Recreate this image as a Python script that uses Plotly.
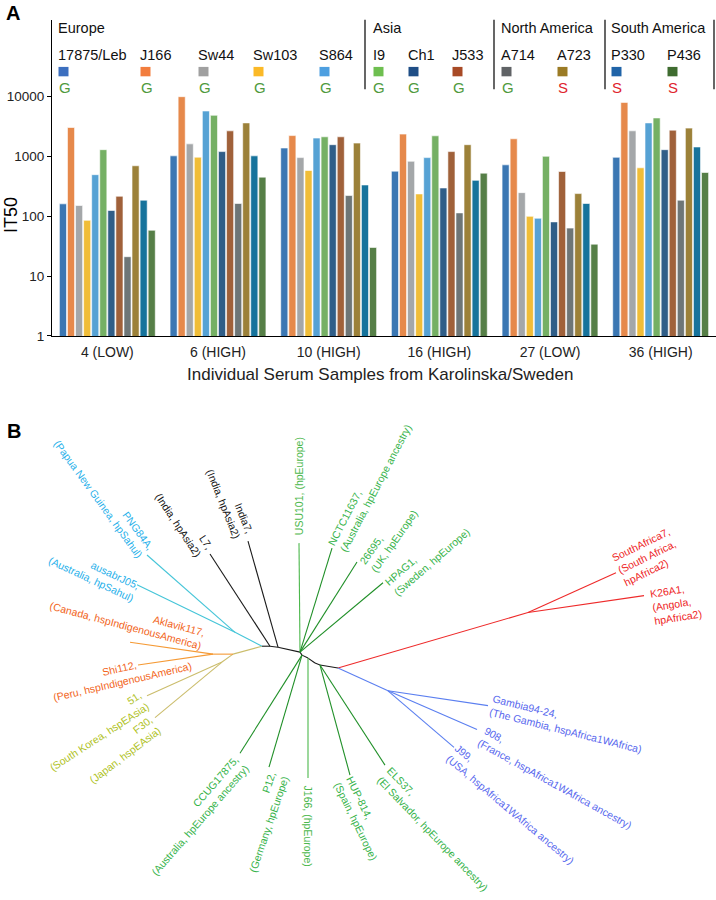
import plotly.graph_objects as go

W, H = 716, 900
FONT = "Liberation Sans, Arial, Helvetica, sans-serif"

# ---------------- Panel A data ----------------
samples = ["4 (LOW)", "6 (HIGH)", "10 (HIGH)", "16 (HIGH)", "27 (LOW)", "36 (HIGH)"]
strains = ["17875/Leb", "J166", "Sw44", "Sw103", "S864", "I9", "Ch1", "J533",
           "A714", "A723", "P330", "P436"]
regions = ["Europe", "Asia", "North America", "South America"]
phenotype = ["G", "G", "G", "G", "G", "G", "G", "G", "G", "S", "S", "S"]

it50_17875 = [160, 1010, 1365, 561, 715, 955]
it50_J166 = [3000, 9800, 2200, 2330, 1945, 7870]
it50_Sw44 = [150, 1600, 944, 820, 246, 2640]
it50_Sw103 = [85, 960, 576, 234, 99, 638]
it50_S864 = [490, 5650, 2000, 944, 92, 3580]
it50_I9 = [1280, 4790, 2100, 2180, 993, 4330]
it50_Ch1 = [124, 1190, 1550, 294, 80, 1280]
it50_J533 = [214, 2640, 2100, 1190, 554, 2710]
it50_A714 = [21, 162, 220, 113, 63, 184]
it50_A723 = [690, 3580, 1650, 1550, 237, 2930]
it50_P330 = [184, 1010, 330, 394, 162, 1420]
it50_P436 = [58, 446, 30, 520, 34, 533]
it50 = [it50_17875, it50_J166, it50_Sw44, it50_Sw103, it50_S864, it50_I9,
        it50_Ch1, it50_J533, it50_A714, it50_A723, it50_P330, it50_P436]

y_tickvals = [1, 10, 100, 1000, 10000]
y_ticktext = ["1", "10", "100", "1000", "10000"]

# ---------------- Panel B data (tree) ----------------
# internal nodes
node_names = ["ea", "cy", "l7", "in", "g1", "g1b", "g2", "g2b", "g3", "af",
              "or_i", "ol_i", "cy_i", "red_i", "blue_i"]
node_x = [233, 262, 270, 278, 300, 302, 308, 315, 320, 338, 213, 222, 235, 528, 388]
node_y = [660, 652, 652, 653, 658, 661, 664, 669, 671, 674, 660, 668, 638, 618, 697]
# tips
tip_names = ["PNG84A", "ausabrJ05", "Aklavik117", "Shi112", "51", "F30", "L7", "India7",
             "USU101", "NCTC11637", "26695", "HPAG1", "CCUG17875", "P12", "J166",
             "HUP-814", "ELS37", "SouthAfrica7", "K26A1", "Gambia94-24", "908", "J99"]
tip_x = [147, 137, 130, 138, 147, 155, 210, 248, 299, 332, 357, 383, 240, 269, 308,
         350, 385, 616, 644, 488, 477, 454]
tip_y = [560, 590, 648, 671, 702, 724, 559, 546, 548, 553, 567, 588, 760, 774, 785,
         782, 772, 578, 601, 712, 736, 754]
tip_parent = ["cy_i", "cy_i", "or_i", "or_i", "ol_i", "ol_i", "l7", "in",
              "g1", "g1", "g1", "g1", "g1b", "g1b", "g2", "g3", "g3",
              "red_i", "red_i", "blue_i", "blue_i", "blue_i"]
tip_clade = ["sahul", "sahul", "amer", "amer", "easia", "easia", "asia2", "asia2",
             "eur_l", "eur", "eur", "eur", "eur", "eur", "eur_l", "eur", "eur",
             "afr2", "afr2", "afr1", "afr1", "afr1"]
# internal edges: (from, to, clade)
edge_from = ["ea", "cy", "l7", "in", "g1", "g1b", "g2", "g2b", "g3",
             "or_i", "ol_i", "cy_i", "af", "af"]
edge_to = ["cy", "l7", "in", "g1", "g1b", "g2", "g2b", "g3", "af",
           "ea", "ea", "cy", "red_i", "blue_i"]
edge_clade = ["easia", "asia2", "asia2", "asia2", "asia2", "asia2", "asia2", "asia2", "asia2",
              "amer", "easia", "sahul", "afr2", "afr1"]

tip_labels = ["PNG84A,<br>(Papua New Guinea, hpSahul)",
              "ausabrJ05,<br>(Australia, hpSahul)",
              "Aklavik117,<br>(Canada, hspIndigenousAmerica)",
              "Shi112,<br>(Peru, hspIndigenousAmerica)",
              "51,<br>(South Korea, hspEAsia)",
              "F30,<br>(Japan, hspEAsia)",
              "L7,<br>(India, hpAsia2)",
              "India7,<br>(India, hpAsia2)",
              "USU101, (hpEurope)",
              "NCTC11637,<br>(Australia, hpEurope ancestry)",
              "26695,<br>(UK, hpEurope)",
              "HPAG1,<br>(Sweden, hpEurope)",
              "CCUG17875,<br>(Australia, hpEurope ancestry)",
              "P12,<br>(Germany, hpEurope)",
              "J166, (hpEurope)",
              "HUP-814,<br>(Spain, hpEurope)",
              "ELS37,<br>(El Salvador, hpEurope ancestry)",
              "SouthAfrica7,<br>(South Africa,<br>hpAfrica2)",
              "K26A1,<br>(Angola,<br>hpAfrica2)",
              "Gambia94-24,<br>(The Gambia, hspAfrica1WAfrica)",
              "908,<br>(France, hspAfrica1WAfrica ancestry)",
              "J99,<br>(USA, hspAfrica1WAfrica ancestry)"]

# ---------------- styles / layout positions ----------------
bar_colors = ["#3b77b3", "#e6894b", "#a4a7a9", "#f0bd38", "#56a2d4", "#75b064",
              "#305e88", "#a0613a", "#6e7677", "#9c8139", "#16739c", "#567f47"]
key_colors = ["#3c6fbf", "#f27d3d", "#a0a0a0", "#fbb927", "#4d9fe0", "#6ebf50",
              "#1f4e86", "#a84a26", "#606366", "#9b7b25", "#2064a8", "#3f6c30"]
pheno_color = {"G": "#4f9a3c", "S": "#e0242c"}
col_x = [57, 139, 197, 252, 318, 372, 407, 451, 500, 556, 610, 666]
region_x = [57, 372, 500, 610]
sep_x = [365, 494, 605, 714]

clade_line = {"sahul": "#45c5d8", "amer": "#f59a35", "easia": "#cbbd6c", "asia2": "#1a1a1a",
              "eur": "#1f8f27", "eur_l": "#4cb84c", "afr2": "#ee2a2a", "afr1": "#5b7ff0"}
clade_text = {"sahul": "#1fb0ea", "amer": "#f26522", "easia": "#afc21e", "asia2": "#111111",
              "eur": "#36b34a", "eur_l": "#4cb84c", "afr2": "#ee1c24", "afr1": "#5868ee"}
# label centre (px), rotation and alignment
lab_x = [104, 94, 127, 121, 96, 120.5, 183.5, 229.5, 299, 369.7, 388.7, 427, 194.6, 262.4,
         308, 362, 437.7, 646.8, 676, 567.6, 558, 514]
lab_y = [499, 578, 625, 681, 738, 756.5, 526, 505.6, 490.5, 489.5, 541.8, 561.6, 823.2, 829.4,
         833, 825, 836, 561, 609, 730, 785, 811.5]
lab_ang = [54, 25, 15, -13, -33, -37, 56.5, 68, -90, -62.5, -55, -41, -49, -71,
           90, 64, 46, -26, -9, 14, 29, 40]
lab_align = ["right", "right", "right", "center", "right", "right", "right", "right",
             "center", "left", "left", "left", "right", "right", "center", "left", "left",
             "left", "left", "left", "left", "left"]


def px(x):
    return x / W


def py(y):
    return 1 - y / H


def text_ann(text, x, y, size, color="#111", xanchor="center", angle=0, bold=False):
    return dict(text=f"<b>{text}</b>" if bold else text, x=px(x), y=py(y),
                xref="paper", yref="paper", xanchor=xanchor, yanchor="middle",
                textangle=angle, showarrow=False, borderpad=0,
                font=dict(size=size, color=color, family=FONT))


fig = go.Figure()

# bars
for i, s in enumerate(strains):
    fig.add_trace(go.Bar(x=samples, y=it50[i], name=s, marker_color=bar_colors[i],
                         marker_line_color="white", marker_line_width=0.6,
                         xaxis="x", yaxis="y", showlegend=False))

# tree branches
nidx = {n: k for k, n in enumerate(node_names)}
segs = {}
for a, b, c in zip(edge_from, edge_to, edge_clade):
    segs.setdefault(c, [[], []])
    segs[c][0] += [node_x[nidx[a]], node_x[nidx[b]], None]
    segs[c][1] += [node_y[nidx[a]], node_y[nidx[b]], None]
for k in range(len(tip_names)):
    c = tip_clade[k]
    p = nidx[tip_parent[k]]
    segs.setdefault(c, [[], []])
    segs[c][0] += [node_x[p], tip_x[k], None]
    segs[c][1] += [node_y[p], tip_y[k], None]
for c, (xs, ys) in segs.items():
    fig.add_trace(go.Scatter(x=xs, y=ys, mode="lines", line=dict(color=clade_line[c], width=1.1),
                             xaxis="x2", yaxis="y2", showlegend=False, hoverinfo="skip"))

ann = []
shapes = []
# panel letters and titles
ann.append(text_ann("A", 12.5, 13, 20, "black", bold=True))
ann.append(text_ann("B", 13.5, 435, 20, "black", bold=True))
ann.append(text_ann("IT50", 11, 217, 18, "black", angle=-90))
ann.append(text_ann("Individual Serum Samples from Karolinska/Sweden", 380, 378, 17, "#222"))

# header key
for r, xr in zip(regions, region_x):
    ann.append(text_ann(r, xr, 28, 14.5, "#111", xanchor="left"))
for i, s in enumerate(strains):
    ann.append(text_ann(s, col_x[i], 55, 14.5, "#111", xanchor="left"))
    ann.append(text_ann(phenotype[i], col_x[i] + 0.5, 88, 15, pheno_color[phenotype[i]],
                        xanchor="left"))
    shapes.append(dict(type="rect", xref="paper", yref="paper", x0=px(col_x[i] + 1.5),
                       x1=px(col_x[i] + 11.5), y0=py(77), y1=py(67.5),
                       fillcolor=key_colors[i], line=dict(width=0)))
for sx in sep_x:
    shapes.append(dict(type="line", xref="paper", yref="paper", x0=px(sx), x1=px(sx),
                       y0=py(20), y1=py(90), line=dict(color="black", width=1.2)))

# tree labels
for k in range(len(tip_names)):
    ann.append(dict(text=tip_labels[k], x=lab_x[k], y=lab_y[k], xref="x2", yref="y2",
                    textangle=lab_ang[k], align=lab_align[k], xanchor="center",
                    yanchor="middle", showarrow=False,
                    font=dict(size=10.5, color=clade_text[tip_clade[k]], family=FONT)))

fig.update_layout(
    width=W, height=H, margin=dict(l=0, r=0, t=0, b=0),
    paper_bgcolor="white", plot_bgcolor="white",
    barmode="group", bargap=0.125, bargroupgap=0.12,
    font=dict(family=FONT, color="black"),
    xaxis=dict(domain=[px(52), 1], anchor="y", showline=True, linecolor="black", linewidth=1.2,
               ticks="", tickfont=dict(size=14, color="#222"), showgrid=False,
               ticklabelstandoff=3, range=[-0.5, 5.5], fixedrange=True),
    yaxis=dict(domain=[py(339), py(20)], anchor="x", type="log", range=[0, 5.273],
               tickvals=y_tickvals, ticktext=y_ticktext, showline=True, linecolor="black",
               linewidth=1.2, ticks="outside", ticklen=4, tickcolor="black",
               tickfont=dict(size=13.5, color="#222"), showgrid=False, zeroline=False),
    xaxis2=dict(domain=[0, 1], anchor="y2", range=[0, W], visible=False, fixedrange=True),
    yaxis2=dict(domain=[0, py(420)], anchor="x2", range=[H, 420], visible=False),
    annotations=ann, shapes=shapes,
)

fig.write_html("out.html", config={"displayModeBar": False},
               post_script="document.body.style.margin='0';")
